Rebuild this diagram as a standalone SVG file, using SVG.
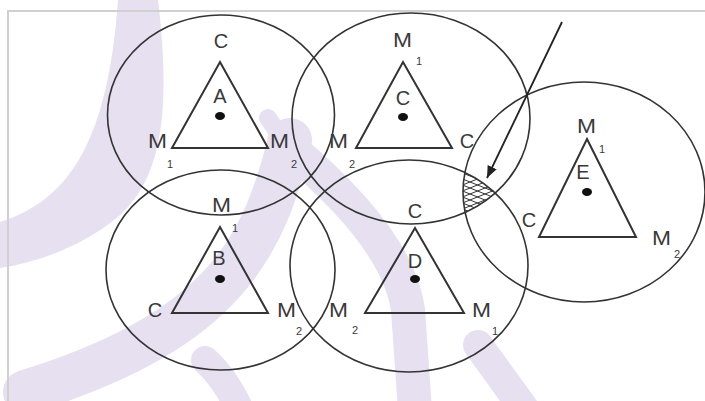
<svg xmlns="http://www.w3.org/2000/svg" width="705" height="401" viewBox="0 0 705 401">
<style>
.wm{fill:none;stroke:#e6e0f0;stroke-linecap:round}
.ring{fill:none;stroke:#333;stroke-width:1.6}
.tri{fill:none;stroke:#333;stroke-width:2;stroke-linejoin:miter}
.dot{fill:#111}
.t{font-family:"Liberation Sans",Arial,sans-serif;font-size:20px;fill:#3a3a3a}
.m{text-anchor:start}
.c{text-anchor:middle}
.s{font-family:"Liberation Sans",Arial,sans-serif;font-size:11px;fill:#3a3a3a;text-anchor:middle}
.hatch{stroke:#333;stroke-width:1}
</style>
<defs>
<marker id="ah" viewBox="0 0 12 10" refX="12" refY="5" markerWidth="12" markerHeight="10" markerUnits="userSpaceOnUse" orient="auto">
<path d="M0,0 L12,5 L0,10 Z" fill="#222"/>
</marker>
<clipPath id="clipC"><ellipse cx="411" cy="118.5" rx="119" ry="105.5"/></clipPath>
<clipPath id="clipD"><ellipse cx="409" cy="266" rx="119" ry="106"/></clipPath>
<clipPath id="clipE"><ellipse cx="584" cy="192" rx="121" ry="110"/></clipPath>
</defs>
<rect width="705" height="401" fill="#fff"/>
<g id="watermark">
<path d="M118,0 L158,0 C170,100 165,175 120,215 C85,245 40,262 0,268 L0,222 C70,200 108,140 118,0 Z" fill="#e6e0f0"/>
<path class="wm" d="M290,140 C265,240 230,330 25,392" stroke-width="44"/>
<path class="wm" d="M268,118 L290,150" stroke-width="18"/>
<path class="wm" d="M290,148 C340,190 400,250 408,310 L415,410" stroke-width="34"/>
<path class="wm" d="M205,360 Q225,378 240,410" stroke-width="28"/>
<path class="wm" d="M478,345 L525,410" stroke-width="30"/>
</g>
<g id="frame" fill="none" stroke="#d0d0d0" stroke-width="2">
<path d="M705,11 L8,11 L8,401"/>
</g>
<g id="circles">
<ellipse id="circleA" class="ring" cx="221" cy="115" rx="113.5" ry="100"/>
<ellipse id="circleC" class="ring" cx="411" cy="118.5" rx="119" ry="105.5"/>
<ellipse id="circleB" class="ring" cx="220.5" cy="270" rx="114.5" ry="100"/>
<ellipse id="circleD" class="ring" cx="409" cy="266" rx="119" ry="106"/>
<ellipse id="circleE" class="ring" cx="584" cy="192" rx="121" ry="110"/>
</g>
<g id="hatching" clip-path="url(#clipC)"><g clip-path="url(#clipD)"><g clip-path="url(#clipE)">
<path class="hatch" d="M450,150 L510,174 M450,156 L510,180 M450,162 L510,186 M450,168 L510,192 M450,174 L510,198 M450,180 L510,204 M450,186 L510,210 M450,192 L510,216 M450,198 L510,222 M450,204 L510,228"/>
<path class="hatch" d="M450,190 L510,166 M450,196 L510,172 M450,202 L510,178 M450,208 L510,184 M450,214 L510,190 M450,220 L510,196 M450,226 L510,202 M450,232 L510,208 M450,238 L510,214"/>
</g></g></g>
<g id="nodeA">
<path class="tri" d="M220,62 L268,148 L172,148 Z"/>
<ellipse class="dot" cx="220" cy="116" rx="5" ry="4"/>
<text class="t c" x="221" y="48">C</text>
<text class="t c" x="220" y="103">A</text>
<text class="t m" x="148" y="148" textLength="19" lengthAdjust="spacingAndGlyphs">M</text>
<text class="s" x="170" y="168">1</text>
<text class="t m" x="270" y="148" textLength="19" lengthAdjust="spacingAndGlyphs">M</text>
<text class="s" x="294" y="168">2</text>
</g>
<g id="nodeC">
<path class="tri" d="M403,62 L452,148 L356,148 Z"/>
<ellipse class="dot" cx="403" cy="117" rx="5" ry="4"/>
<text class="t m" x="393" y="47" textLength="19" lengthAdjust="spacingAndGlyphs">M</text>
<text class="s" x="419" y="65">1</text>
<text class="t c" x="403" y="105">C</text>
<text class="t m" x="329" y="148" textLength="19" lengthAdjust="spacingAndGlyphs">M</text>
<text class="s" x="352" y="168">2</text>
<text class="t c" x="467" y="148">C</text>
</g>
<g id="nodeE">
<path class="tri" d="M587,139 L636,237 L539,237 Z"/>
<ellipse class="dot" cx="587" cy="192" rx="5" ry="4"/>
<text class="t m" x="577" y="133" textLength="19" lengthAdjust="spacingAndGlyphs">M</text>
<text class="s" x="602" y="153">1</text>
<text class="t c" x="583" y="179">E</text>
<text class="t c" x="529" y="227">C</text>
<text class="t m" x="652" y="245" textLength="19" lengthAdjust="spacingAndGlyphs">M</text>
<text class="s" x="677" y="258">2</text>
</g>
<g id="nodeB">
<path class="tri" d="M220,227 L268,313 L172,313 Z"/>
<ellipse class="dot" cx="220" cy="279" rx="5" ry="4"/>
<text class="t m" x="212" y="212" textLength="19" lengthAdjust="spacingAndGlyphs">M</text>
<text class="s" x="235" y="232">1</text>
<text class="t c" x="219" y="265">B</text>
<text class="t c" x="155" y="317">C</text>
<text class="t m" x="277" y="317" textLength="19" lengthAdjust="spacingAndGlyphs">M</text>
<text class="s" x="299" y="335">2</text>
</g>
<g id="nodeD">
<path class="tri" d="M415,228 L464,313 L365,313 Z"/>
<ellipse class="dot" cx="415" cy="279" rx="5" ry="4"/>
<text class="t c" x="415" y="218">C</text>
<text class="t c" x="415" y="268">D</text>
<text class="t m" x="329" y="317" textLength="19" lengthAdjust="spacingAndGlyphs">M</text>
<text class="s" x="355" y="334">2</text>
<text class="t m" x="472" y="317" textLength="19" lengthAdjust="spacingAndGlyphs">M</text>
<text class="s" x="495" y="335">1</text>
</g>
<g id="connectors">
<line x1="562" y1="22" x2="487" y2="178" stroke="#222" stroke-width="1.8" marker-end="url(#ah)"/>
</g>
</svg>
